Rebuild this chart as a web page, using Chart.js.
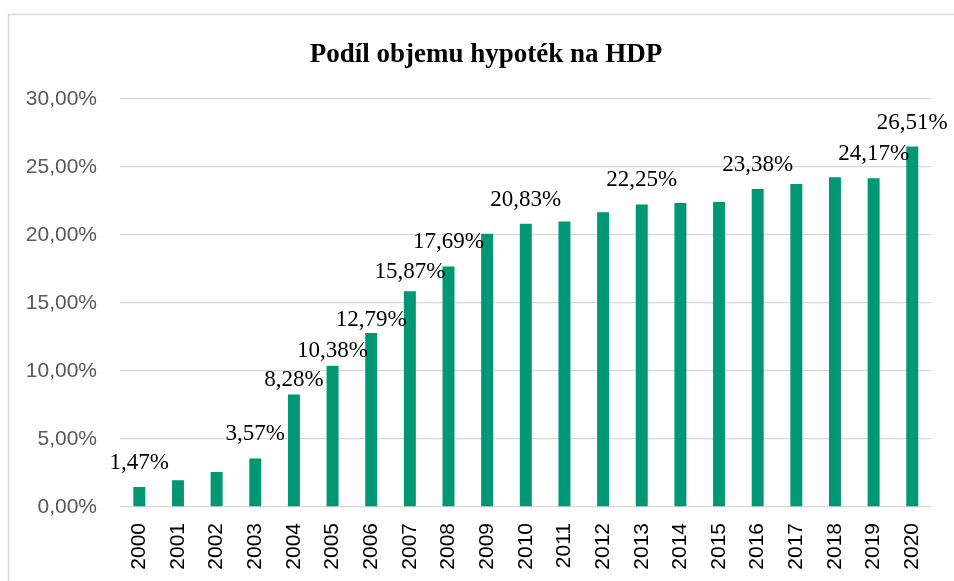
<!DOCTYPE html>
<html>
<head>
<meta charset="utf-8">
<script src="https://cdn.jsdelivr.net/npm/chart.js@4"></script>
<style>
html,body{margin:0;padding:0;background:#fff;}
#c{display:block;}
</style>
</head>
<body>
<canvas id="c" width="954" height="581"></canvas>
<script>
const title = "Podíl objemu hypoték na HDP";
const years = ["2000","2001","2002","2003","2004","2005","2006","2007","2008","2009","2010","2011","2012","2013","2014","2015","2016","2017","2018","2019","2020"];
const shares = [1.47, 1.97, 2.57, 3.57, 8.28, 10.38, 12.79, 15.87, 17.69, 20.10, 20.83, 21.00, 21.67, 22.25, 22.35, 22.43, 23.38, 23.75, 24.24, 24.17, 26.51];
const labelledYears = ["2000","2003","2004","2005","2006","2007","2008","2010","2013","2016","2019","2020"];
const yTicks = [0, 5, 10, 15, 20, 25, 30];

function pct(v){ return v.toFixed(2).replace('.', ',') + '%'; }

const labelOffsets = {4:14, 5:15, 6:13, 7:19};

const decor = {
  id: 'decor',
  beforeDraw(chart){
    const ctx = chart.ctx;
    ctx.save();
    ctx.strokeStyle = '#d9d9d9';
    ctx.lineWidth = 1.5;
    ctx.beginPath();
    ctx.moveTo(8.5, 581);
    ctx.lineTo(8.5, 14.5);
    ctx.lineTo(954, 14.5);
    ctx.stroke();
    ctx.fillStyle = '#000';
    ctx.font = 'bold 27px "Liberation Serif", "Times New Roman", serif';
    ctx.textAlign = 'center';
    ctx.textBaseline = 'middle';
    ctx.fillText(title, 486, 55);
    ctx.restore();
  },
  afterDatasetsDraw(chart){
    const ctx = chart.ctx;
    const meta = chart.getDatasetMeta(0);
    ctx.save();
    ctx.fillStyle = '#000';
    ctx.font = '23px "Liberation Serif", "Times New Roman", serif';
    ctx.textAlign = 'center';
    ctx.textBaseline = 'middle';
    years.forEach((y, i) => {
      if (!labelledYears.includes(y)) return;
      const el = meta.data[i];
      const off = labelOffsets[i] !== undefined ? labelOffsets[i] : 24;
      ctx.fillText(pct(shares[i]), el.x, el.y - off);
    });
    ctx.restore();
  }
};

new Chart(document.getElementById('c'), {
  type: 'bar',
  data: {
    labels: years,
    datasets: [{
      data: shares,
      backgroundColor: '#009775',
      borderWidth: 0,
      categoryPercentage: 1,
      barPercentage: 0.31
    }]
  },
  options: {
    responsive: false,
    animation: false,
    layout: { padding: { top: 99, right: 22, left: 0, bottom: 0 } },
    plugins: { legend: { display: false }, title: { display: false }, tooltip: { enabled: false } },
    scales: {
      x: {
        grid: { display: false, drawTicks: false },
        border: { display: false },
        ticks: {
          color: '#000',
          font: { family: '"Liberation Sans", Arial, sans-serif', size: 21 },
          minRotation: 90, maxRotation: 90,
          padding: 16,
          autoSkip: false
        },
        afterFit(s){ s.height = 74; }
      },
      y: {
        min: 0, max: 30,
        afterBuildTicks(s){ s.ticks = yTicks.map(v => ({value: v})); },
        grid: { color: '#d9d9d9', lineWidth: 1.3, drawTicks: false },
        border: { display: false },
        ticks: {
          color: '#595959',
          font: { family: '"Liberation Sans", Arial, sans-serif', size: 21 },
          padding: 23,
          callback(v){ return pct(v); }
        },
        afterFit(s){ s.width = 120; }
      }
    }
  },
  plugins: [decor]
});
</script>
</body>
</html>
